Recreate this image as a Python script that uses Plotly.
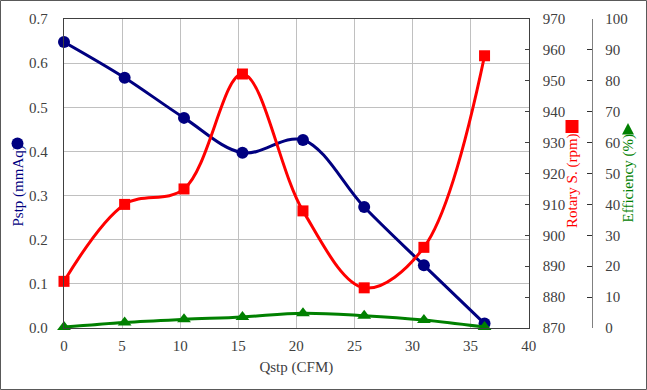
import plotly.graph_objects as go

# ---- data ----
qstp = [0.0, 5.22, 10.33, 15.36, 20.57, 25.84, 30.98, 36.2]
pstp = [0.648, 0.567, 0.476, 0.397, 0.426, 0.274, 0.142, 0.010]
rpm = [885.1, 910.0, 915.0, 952.2, 907.9, 883.0, 896.1, 958.1]
eff = [0.3, 1.8, 2.8, 3.6, 4.8, 4.0, 2.6, 0.3]

x_ticks = [0, 5, 10, 15, 20, 25, 30, 35, 40]

NAVY = "#000080"
RED = "#ff0000"
GREEN = "#008000"
TXT = "#404040"
FONT = "Liberation Serif, Times New Roman, DejaVu Serif, serif"

W, H = 647, 390
ML, MR, MT, MB = 64, 55, 19, 62
PW = W - ML - MR
PH = H - MT - MB
plot_right_px = 528.7
xdom_end = (plot_right_px - ML) / PW

fig = go.Figure()
fig.add_trace(go.Scatter(x=qstp, y=pstp, mode="lines+markers", yaxis="y",
                         line=dict(color=NAVY, width=3, shape="spline", smoothing=1),
                         marker=dict(symbol="circle", size=12, color=NAVY),
                         cliponaxis=False, showlegend=False))
fig.add_trace(go.Scatter(x=qstp, y=rpm, mode="lines+markers", yaxis="y2",
                         line=dict(color=RED, width=3, shape="spline", smoothing=1),
                         marker=dict(symbol="square", size=11, color=RED),
                         cliponaxis=False, showlegend=False))
fig.add_trace(go.Scatter(x=qstp, y=eff, mode="lines+markers", yaxis="y3",
                         line=dict(color=GREEN, width=3, shape="spline", smoothing=1),
                         marker=dict(symbol="triangle-up", size=12, color=GREEN),
                         cliponaxis=False, showlegend=False))

tickfont = dict(family=FONT, size=15, color=TXT)

fig.update_layout(
    width=W, height=H,
    margin=dict(l=ML, r=MR, t=MT, b=MB, autoexpand=False),
    paper_bgcolor="white", plot_bgcolor="white",
    font=dict(family=FONT, size=15, color=TXT),
    xaxis=dict(domain=[0, xdom_end], range=[0, 40], tickvals=x_ticks,
               showgrid=True, gridcolor="#c0c0c0", gridwidth=1,
               showline=True, linecolor="#404040", linewidth=1.3, mirror=True,
               ticks="", tickfont=tickfont, ticklabelstandoff=4,
               zeroline=False, automargin=False,
               title=dict(text="Qstp (CFM)", font=dict(family=FONT, size=15, color=TXT), standoff=8)),
    yaxis=dict(range=[0, 0.7], dtick=0.1, tickformat=".1f",
               showgrid=True, gridcolor="#c0c0c0", gridwidth=1,
               showline=True, linecolor="#404040", linewidth=1.3, automargin=False,
               ticks="", tickfont=tickfont, ticklabelstandoff=12, zeroline=False),
    yaxis2=dict(overlaying="y", side="right", anchor="x", range=[870, 970], dtick=10,
                showgrid=False, zeroline=False, showline=True, linecolor="#404040", linewidth=1.3,
                ticks="inside", ticklen=4, tickcolor="#404040", automargin=False,
                tickfont=tickfont, ticklabelstandoff=10),
    yaxis3=dict(overlaying="y", side="right", anchor="free", position=1.0, range=[0, 100], dtick=10,
                showgrid=False, zeroline=False, showline=True, linecolor="#808080", linewidth=1.3,
                ticks="inside", ticklen=5, tickcolor="#303030", automargin=False,
                tickfont=tickfont, ticklabelstandoff=9),
)

def px_x(p):
    return (p - ML) / PW

def px_y(p):
    return (H - MB - p) / PH

annos = [
    ("Pstp (mmAq)", 17.5, 186, NAVY),
    ("Rotary S. (rpm)", 572, 181, RED),
    ("Efficiency (%)", 628, 178.5, GREEN),
]
for text, xp, yp, col in annos:
    fig.add_annotation(text=text, xref="paper", yref="paper", x=px_x(xp), y=px_y(yp),
                       showarrow=False, textangle=-90, xanchor="center", yanchor="middle",
                       font=dict(family=FONT, size=15, color=col))

# upright marker glyphs next to axis titles
fig.add_shape(type="circle", xref="paper", yref="paper", xsizemode="pixel", ysizemode="pixel",
              xanchor=px_x(17.5), yanchor=px_y(143.5), x0=-6, x1=6, y0=-6, y1=6,
              fillcolor=NAVY, line=dict(width=0))
fig.add_shape(type="rect", xref="paper", yref="paper", xsizemode="pixel", ysizemode="pixel",
              xanchor=px_x(572), yanchor=px_y(126.5), x0=-6.5, x1=6.5, y0=-6.5, y1=6.5,
              fillcolor=RED, line=dict(width=0))
fig.add_shape(type="path", xref="paper", yref="paper", xsizemode="pixel", ysizemode="pixel",
              xanchor=px_x(628), yanchor=px_y(129), path="M -6,-5.5 L 6,-5.5 L 0,6 Z",
              fillcolor=GREEN, line=dict(width=0))

# outer chart border
fig.add_shape(type="rect", xref="paper", yref="paper",
              x0=(-ML + 0.5) / PW, x1=(W - ML - 0.5) / PW,
              y0=(-MB + 0.5) / PH, y1=(H - MB - 0.5) / PH,
              line=dict(color="#595959", width=1), fillcolor="rgba(0,0,0,0)", layer="above")

fig.write_html("out.html", config={"displayModeBar": False},
               post_script="document.body.style.margin='0';")
